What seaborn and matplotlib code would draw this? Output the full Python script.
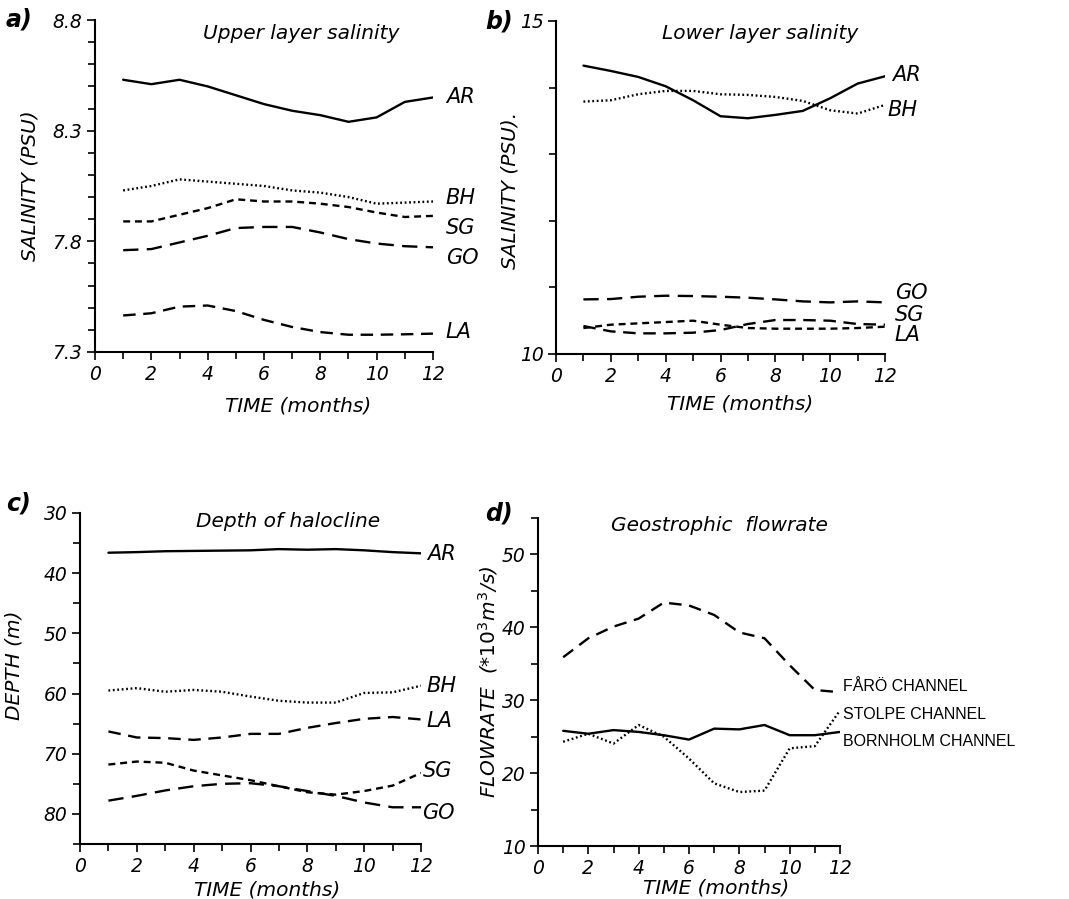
import numpy as np
import pandas as pd
import seaborn as sns
import matplotlib
matplotlib.use("Agg")
import matplotlib.pyplot as plt
from matplotlib.ticker import MultipleLocator, FixedLocator

sns.set_theme(style="ticks")
plt.rcParams['font.family'] = ['DejaVu Sans']
plt.rcParams['lines.scale_dashes'] = False
plt.rcParams['text.color'] = 'black'
plt.rcParams['axes.labelcolor'] = 'black'
plt.rcParams['xtick.color'] = 'black'
plt.rcParams['ytick.color'] = 'black'

# ---------------- data ----------------
MONTHS = [1, 2, 3, 4, 5, 6, 7, 8, 9, 10, 11, 12]

# a) Upper layer salinity (PSU)
UP_AR = [8.53, 8.51, 8.53, 8.50, 8.46, 8.42, 8.39, 8.37, 8.34, 8.36, 8.43, 8.45]
UP_BH = [8.03, 8.05, 8.08, 8.07, 8.06, 8.05, 8.03, 8.02, 8.00, 7.97, 7.975, 7.98]
UP_SG = [7.89, 7.89, 7.92, 7.95, 7.99, 7.98, 7.98, 7.97, 7.955, 7.93, 7.91, 7.915]
UP_GO = [7.76, 7.765, 7.795, 7.825, 7.86, 7.865, 7.865, 7.84, 7.81, 7.79, 7.778, 7.773]
UP_LA = [7.465, 7.475, 7.505, 7.51, 7.485, 7.445, 7.413, 7.39, 7.378, 7.378, 7.38, 7.383]

# b) Lower layer salinity (PSU)
LO_AR = [14.33, 14.25, 14.16, 14.02, 13.81, 13.57, 13.54, 13.59, 13.65, 13.84, 14.06, 14.17]
LO_BH = [13.79, 13.81, 13.90, 13.95, 13.95, 13.90, 13.89, 13.86, 13.80, 13.66, 13.61, 13.74]
LO_GO = [10.82, 10.825, 10.86, 10.875, 10.87, 10.86, 10.845, 10.82, 10.79, 10.775, 10.79, 10.775]
LO_SG = [10.39, 10.44, 10.46, 10.48, 10.50, 10.44, 10.39, 10.38, 10.38, 10.38, 10.39, 10.41]
LO_LA = [10.42, 10.34, 10.31, 10.31, 10.32, 10.36, 10.45, 10.51, 10.51, 10.50, 10.45, 10.44]

# c) Depth of halocline (m)
DE_AR = [36.6, 36.5, 36.35, 36.3, 36.25, 36.2, 36.0, 36.1, 36.0, 36.2, 36.5, 36.7]
DE_BH = [59.5, 59.1, 59.7, 59.4, 59.7, 60.5, 61.2, 61.5, 61.5, 59.9, 59.8, 58.7]
DE_LA = [66.3, 67.3, 67.4, 67.7, 67.3, 66.7, 66.7, 65.7, 64.9, 64.2, 63.9, 64.3]
DE_SG = [71.8, 71.3, 71.5, 72.8, 73.6, 74.4, 75.4, 76.4, 76.8, 76.2, 75.3, 73.2]
DE_GO = [77.8, 77.0, 76.1, 75.4, 75.0, 74.9, 75.4, 76.2, 77.0, 78.1, 78.9, 78.9]

# d) Geostrophic flowrate (*10^3 m^3/s)
FL_FARO = [35.9, 38.5, 40.1, 41.2, 43.4, 43.0, 41.7, 39.3, 38.5, 34.8, 31.4, 31.1]
FL_BORNHOLM = [25.8, 25.4, 25.9, 25.65, 25.2, 24.6, 26.1, 26.0, 26.6, 25.2, 25.2, 25.65]
FL_STOLPE = [24.3, 25.4, 24.05, 26.6, 25.0, 22.0, 18.6, 17.4, 17.6, 23.4, 23.7, 28.6]

# ---------------- styles ----------------
SOLID = '-'
DOT = (0, (1.3, 1.9))
SHORT = (0, (5.0, 3.5))
LONG = (0, (9.0, 5.5))
LONGER = (0, (11.0, 6.0))

W, H = 1069, 899
fig = plt.figure(figsize=(W / 100, H / 100), dpi=100)
fig.patch.set_facecolor('white')

def px_axes(x0, y0, x1, y1):
    return fig.add_axes([x0 / W, 1 - y1 / H, (x1 - x0) / W, (y1 - y0) / H])

ax_a = px_axes(95, 20, 433, 352)
ax_b = px_axes(556, 21, 885, 354)
ax_c = px_axes(80, 513, 421, 844)
ax_d = px_axes(538, 518, 840, 846)

LW = 1.7
AXLABEL_FS = 14.5
TITLE_FS = 14.5

def style_axes(ax, ylim, ymajor, yminor, xl_pos, yl_pos, ylabel, invert=False):
    ax.set_facecolor('white')
    ax.set_xlim(0, 12)
    if invert:
        ax.set_ylim(ylim[1], ylim[0])
    else:
        ax.set_ylim(*ylim)
    for s in ['top', 'right']:
        ax.spines[s].set_visible(False)
    for s in ['left', 'bottom']:
        ax.spines[s].set_color('black')
        ax.spines[s].set_linewidth(1.5)
    ax.xaxis.set_major_locator(MultipleLocator(2))
    ax.xaxis.set_minor_locator(MultipleLocator(1))
    ax.yaxis.set_major_locator(FixedLocator(ymajor))
    ax.yaxis.set_minor_locator(FixedLocator(yminor))
    ax.tick_params(axis='both', which='both', direction='out', color='black',
                   width=1.2, labelcolor='black')
    ax.tick_params(axis='both', which='major', length=6, labelsize=13.5, pad=3)
    ax.tick_params(axis='both', which='minor', length=5)
    for lab in ax.get_xticklabels() + ax.get_yticklabels():
        lab.set_fontstyle('italic')
    ax.set_xlabel('TIME (months)', fontsize=AXLABEL_FS, fontstyle='italic', color='black')
    ax.xaxis.set_label_coords(*xl_pos)
    ax.set_ylabel(ylabel, fontsize=AXLABEL_FS, fontstyle='italic', color='black')
    ax.yaxis.set_label_coords(*yl_pos)
    ax.grid(False)

def draw(ax, values, ls):
    sns.lineplot(x=MONTHS, y=values, ax=ax, color='black', linewidth=LW,
                 linestyle=ls, legend=False)

LABELFONT = dict(fontsize=15, fontstyle='italic', color='black', va='center', ha='left')

# ---- a) ----
draw(ax_a, UP_AR, SOLID)
draw(ax_a, UP_BH, DOT)
draw(ax_a, UP_SG, SHORT)
draw(ax_a, UP_GO, LONGER)
draw(ax_a, UP_LA, LONG)
style_axes(ax_a, (7.3, 8.8), [7.3, 7.8, 8.3, 8.8],
           list(np.round(np.arange(7.3, 8.81, 0.1), 2)),
           (0.60, -0.135), (-0.165, 0.5), 'SALINITY (PSU)')
ax_a.set_yticklabels(['7.3', '7.8', '8.3', '8.8'])
for lab in ax_a.get_yticklabels():
    lab.set_fontstyle('italic')
ax_a.text(0.61, 0.96, 'Upper layer salinity', transform=ax_a.transAxes,
          ha='center', va='center', fontsize=TITLE_FS, fontstyle='italic')
for name, yv in [('AR', 8.452), ('BH', 7.996), ('SG', 7.86), ('GO', 7.725), ('LA', 7.39)]:
    ax_a.text(12.45, yv, name, **LABELFONT)

# ---- b) ----
draw(ax_b, LO_AR, SOLID)
draw(ax_b, LO_BH, DOT)
draw(ax_b, LO_GO, LONGER)
draw(ax_b, LO_SG, SHORT)
draw(ax_b, LO_LA, LONG)
style_axes(ax_b, (10, 15), [10, 15], [11, 12, 13, 14],
           (0.56, -0.123), (-0.11, 0.49), 'SALINITY (PSU).')
ax_b.text(0.62, 0.963, 'Lower layer salinity', transform=ax_b.transAxes,
          ha='center', va='center', fontsize=TITLE_FS, fontstyle='italic')
for name, xv, yv in [('AR', 12.25, 14.19), ('BH', 12.1, 13.66), ('GO', 12.35, 10.91),
                     ('SG', 12.35, 10.585), ('LA', 12.35, 10.29)]:
    ax_b.text(xv, yv, name, **LABELFONT)

# ---- c) ----
draw(ax_c, DE_AR, SOLID)
draw(ax_c, DE_BH, DOT)
draw(ax_c, DE_LA, LONG)
draw(ax_c, DE_SG, SHORT)
draw(ax_c, DE_GO, LONGER)
style_axes(ax_c, (30, 85), [30, 40, 50, 60, 70, 80], [35, 45, 55, 65, 75, 85],
           (0.55, -0.11), (-0.165, 0.54), 'DEPTH (m)', invert=True)
ax_c.text(0.61, 0.975, 'Depth of halocline', transform=ax_c.transAxes,
          ha='center', va='center', fontsize=TITLE_FS, fontstyle='italic')
for name, xv, yv in [('AR', 12.2, 36.85), ('BH', 12.2, 58.7), ('LA', 12.2, 64.6),
                     ('SG', 12.05, 72.9), ('GO', 12.05, 79.8)]:
    ax_c.text(xv, yv, name, **LABELFONT)

# ---- d) ----
draw(ax_d, FL_FARO, LONG)
draw(ax_d, FL_BORNHOLM, SOLID)
draw(ax_d, FL_STOLPE, DOT)
style_axes(ax_d, (10, 55), [10, 20, 30, 40, 50], [15, 25, 35, 45, 55],
           (0.59, -0.10), (-0.125, 0.50), r'FLOWRATE  (*$10^3 m^3$/s)')
ax_d.text(0.60, 0.978, 'Geostrophic  flowrate', transform=ax_d.transAxes,
          ha='center', va='center', fontsize=TITLE_FS, fontstyle='italic')
CHFONT = dict(fontsize=11.5, color='black', va='center', ha='left',
              family=['Liberation Sans Narrow', 'Liberation Sans', 'DejaVu Sans'])
for name, yv in [('FÅRÖ CHANNEL', 31.9), ('STOLPE CHANNEL', 28.0), ('BORNHOLM CHANNEL', 24.4)]:
    ax_d.text(12.12, yv, name, **CHFONT)

# panel letters
for lab, x, y in [('a)', 6, 20), ('b)', 485, 22), ('c)', 6, 503), ('d)', 485, 514)]:
    fig.text(x / W, 1 - y / H, lab, fontsize=17, fontstyle='italic', fontweight='bold',
             ha='left', va='center', color='black')

fig.savefig('out.png', dpi=100, facecolor='white')
